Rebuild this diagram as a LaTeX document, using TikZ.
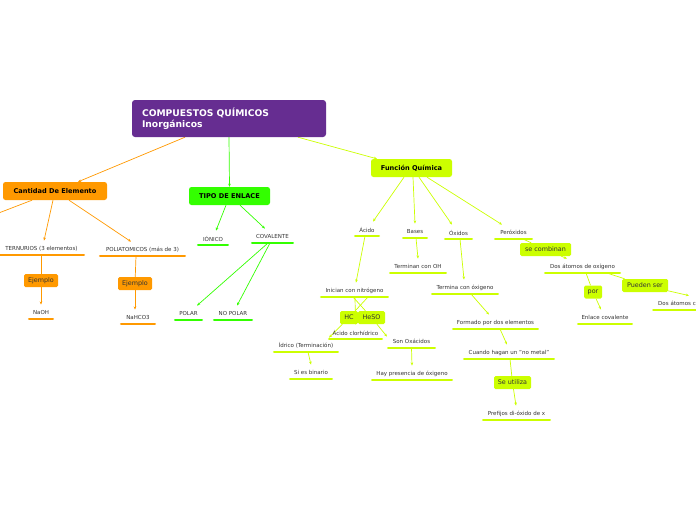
\documentclass[tikz,border=0pt]{standalone}
\usepackage{fontspec}
\setmainfont{DejaVu Sans}
\usetikzlibrary{arrows.meta,backgrounds}
\definecolor{purp}{HTML}{662D91}
\definecolor{orng}{HTML}{FF9900}
\definecolor{grn}{HTML}{33FF00}
\definecolor{ylw}{HTML}{CCFF00}
\definecolor{txt}{HTML}{333333}
\begin{document}
\begin{tikzpicture}[x=1pt,y=-1pt,
 every node/.style={font=\fontsize{5.5}{6.5}\selectfont, text=txt, inner sep=0},
 topic/.style={minimum height=12.5, anchor=south},
 mainbox/.style={rounded corners=2.5, fill=#1, font=\bfseries\fontsize{6.6}{8}\selectfont, text=black, minimum height=18},
 lbl/.style={rounded corners=1.5, fill=#1, font=\fontsize{6.4}{7}\selectfont, minimum height=13},
 conn/.style={draw=#1, line width=0.7, -{Stealth[length=3.2,width=2.6]}},
 ln/.style={draw=#1, line width=0.7},
 bar/.style={draw=#1, line width=2.8, line cap=round, shorten <=1.4, shorten >=1.4}]
\useasboundingbox (0,0) rectangle (696,520);

% root and main topics
\node[rounded corners=3, fill=purp, minimum width=194, minimum height=37, text width=174, align=left, text=white, font=\bfseries\fontsize{9.2}{11}\selectfont] (root) at (229,118.5) {COMPUESTOS QUÍMICOS\\Inorgánicos};
\node[mainbox=orng, minimum width=104] (cant) at (55,191) {Cantidad De Elemento};
\node[mainbox=grn, minimum width=81] (tipo) at (229.5,196) {TIPO DE ENLACE};
\node[mainbox=ylw, minimum width=81] (func) at (411.5,168) {Función Química};

% subtopics
\node[topic, minimum width=87] (tern) at (41.5,255) {TERNURIOS (3 elementos)};
\node[topic, minimum width=87] (poli) at (142.5,256) {POLIATOMICOS (más de 3)};
\node[topic, minimum width=26] (naoh) at (41,319) {NaOH};
\node[topic, minimum width=36] (nahco) at (138,324) {NaHCO3};
\node[topic, minimum width=32] (ion) at (213,245) {IÓNICO};
\node[topic, minimum width=43] (cov) at (272.5,243) {COVALENTE};
\node[topic, minimum width=29] (polar) at (188.5,320) {POLAR};
\node[topic, minimum width=40] (nopolar) at (233,320) {NO POLAR};
\node[topic, minimum width=26] (acido) at (367,236) {Ácido};
\node[topic, minimum width=26] (bases) at (415,238) {Bases};
\node[topic, minimum width=29] (oxidos) at (458.5,239) {Óxidos};
\node[topic, minimum width=39] (perox) at (513.5,239) {Peróxidos};
\node[topic, minimum width=69] (inic) at (354.5,297) {Inician con nitrógeno};
\node[topic, minimum width=58] (termoh) at (418,273) {Terminan con OH};
\node[topic, minimum width=68] (termox) at (465,294) {Termina con óxigeno};
\node[topic, minimum width=77] (dosat) at (582.5,273) {Dos átomos de oxígeno};
\node[topic, minimum width=56] (enlace) at (605,324) {Enlace covalente};
\node[topic, anchor=south west, text width=80, align=left, inner xsep=6] (dosc) at (652,310) {Dos átomos c};
\node[topic, minimum width=87] (formado) at (495.5,329) {Formado por dos elementos};
\node[topic, minimum width=92] (cuando) at (509,359) {Cuando hagan un "no metal"};
\node[topic, minimum width=69] (prefijos) at (516.5,420) {Prefijos di-óxido de x};
\node[topic, minimum width=55] (aclor) at (355.5,339) {Ácido clorhídrico};
\node[topic, minimum width=66] (idrico) at (306,352) {Ídrico (Terminación)};
\node[topic, minimum width=44] (binario) at (311,379) {Si es binario};
\node[topic, minimum width=49] (oxac) at (411.5,348) {Son Oxácidos};
\node[topic, minimum width=82] (hay) at (412,380) {Hay presencia de óxigeno};

% underline bars
\foreach \n/\c in {tern/orng,poli/orng,naoh/orng,nahco/orng,ion/grn,cov/grn,polar/grn,nopolar/grn,
  acido/ylw,bases/ylw,oxidos/ylw,perox/ylw,inic/ylw,termoh/ylw,termox/ylw,dosat/ylw,enlace/ylw,dosc/ylw,
  formado/ylw,cuando/ylw,prefijos/ylw,aclor/ylw,idrico/ylw,binario/ylw,oxac/ylw,hay/ylw}
  \draw[bar=\c] (\n.south west) -- (\n.south east);

% connector labels
\node[lbl=orng, minimum width=34] (ej1) at (41,280.5) {Ejemplo};
\node[lbl=orng, minimum width=34] (ej2) at (135,283.5) {Ejemplo};
\node[lbl=ylw, minimum width=51] (secomb) at (545.5,249.5) {se combinan};
\node[lbl=ylw, minimum width=18] (por) at (593,292) {por};
\node[lbl=ylw, minimum width=46] (pueden) at (645,285.5) {Pueden ser};
\node[lbl=ylw, minimum width=37] (seutil) at (512.5,382.5) {Se utiliza};
\node[lbl=ylw, minimum width=18] (hc) at (349,317.5) {HC};
\node[lbl=ylw, minimum width=27] (heso) at (371.5,317.5) {HeSO};

\begin{scope}[on background layer]
\fill[white] (0,0) rectangle (696,520);
\clip (0,0) rectangle (696,520);
\draw[conn=orng] ([xshift=-44]root.south) -- ([xshift=23]cant.north);
\draw[conn=grn] (root.south) -- (tipo.north);
\draw[conn=ylw] ([xshift=69]root.south) -- ([xshift=-34.5]func.north);
\coordinate (offl) at (-30,224);
\draw[ln=orng] ([xshift=-23]cant.south) -- (offl);
\draw[conn=orng] ([xshift=-2]cant.south) -- ([xshift=2.5,yshift=1.5]tern.north);
\draw[conn=orng] ([xshift=14]cant.south) -- ([xshift=-11.5,yshift=1.5]poli.north);
\draw[ln=orng] ([xshift=-0.5]tern.south) -- (ej1);
\draw[conn=orng] (ej1) -- ([yshift=1.5]naoh.north);
\draw[ln=orng] ([xshift=-6.5]poli.south) -- (ej2);
\draw[conn=orng] (ej2) -- ([xshift=-3,yshift=1.5]nahco.north);
\draw[conn=grn] ([xshift=-3.5]tipo.south) -- ([xshift=3,yshift=1.5]ion.north);
\draw[conn=grn] ([xshift=10.5]tipo.south) -- ([xshift=-7.5,yshift=1.5]cov.north);
\draw[conn=grn] ([xshift=-4.5]cov.south) -- ([xshift=8.5,yshift=1.5]polar.north);
\draw[conn=grn] ([xshift=-2.5]cov.south) -- ([xshift=4,yshift=1.5]nopolar.north);
\draw[conn=ylw] ([xshift=-7.5]func.south) -- ([xshift=6,yshift=1.5]acido.north);
\draw[conn=ylw] ([xshift=1.5]func.south) -- ([yshift=1.5]bases.north);
\draw[conn=ylw] ([xshift=7.5]func.south) -- ([xshift=-6.5,yshift=1.5]oxidos.north);
\draw[conn=ylw] ([xshift=15.5]func.south) -- ([xshift=-11.5,yshift=1.5]perox.north);
\draw[conn=ylw] ([xshift=-2]acido.south) -- ([xshift=1.5,yshift=1.5]inic.north);
\draw[conn=ylw] ([xshift=1]bases.south) -- ([yshift=1.5]termoh.north);
\draw[conn=ylw] ([xshift=1.5]oxidos.south) -- ([xshift=-1,yshift=1.5]termox.north);
\draw[ln=ylw] ([xshift=9.5]perox.south) -- (secomb);
\draw[conn=ylw] (secomb) -- ([xshift=-15.5,yshift=1.5]dosat.north);
\draw[ln=ylw] ([xshift=3.5]dosat.south) -- (por);
\draw[conn=ylw] (por) -- ([xshift=-4,yshift=1.5]enlace.north);
\draw[ln=ylw] ([xshift=24.5]dosat.south) -- (pueden);
\draw[conn=ylw] (pueden) -- ([xshift=37,yshift=1.5]dosc.north west);
\draw[conn=ylw] ([xshift=6]termox.south) -- ([xshift=-6.5,yshift=1.5]formado.north);
\draw[conn=ylw] ([xshift=4.5]formado.south) -- ([xshift=-2,yshift=1.5]cuando.north);
\draw[ln=ylw] ([xshift=1]cuando.south) -- (seutil);
\draw[conn=ylw] (seutil) -- ([xshift=-0.5,yshift=1.5]prefijos.north);
\draw[ln=ylw] ([xshift=13.5]inic.south) -- (hc);
\draw[conn=ylw] (hc) -- ([xshift=23,yshift=1.5]idrico.north);
\draw[ln=ylw] ([xshift=-1.5]inic.south) -- (heso);
\draw[conn=ylw] (heso) -- ([xshift=-24.5,yshift=-1.5]oxac.north);
\draw[conn=ylw] ([xshift=0.5]inic.south) -- ([yshift=1.5]aclor.north);
\draw[conn=ylw] ([xshift=2]idrico.south) -- ([yshift=1.5]binario.north);
\draw[conn=ylw] (oxac.south) -- ([yshift=1.5]hay.north);
\end{scope}
\end{tikzpicture}
\end{document}
